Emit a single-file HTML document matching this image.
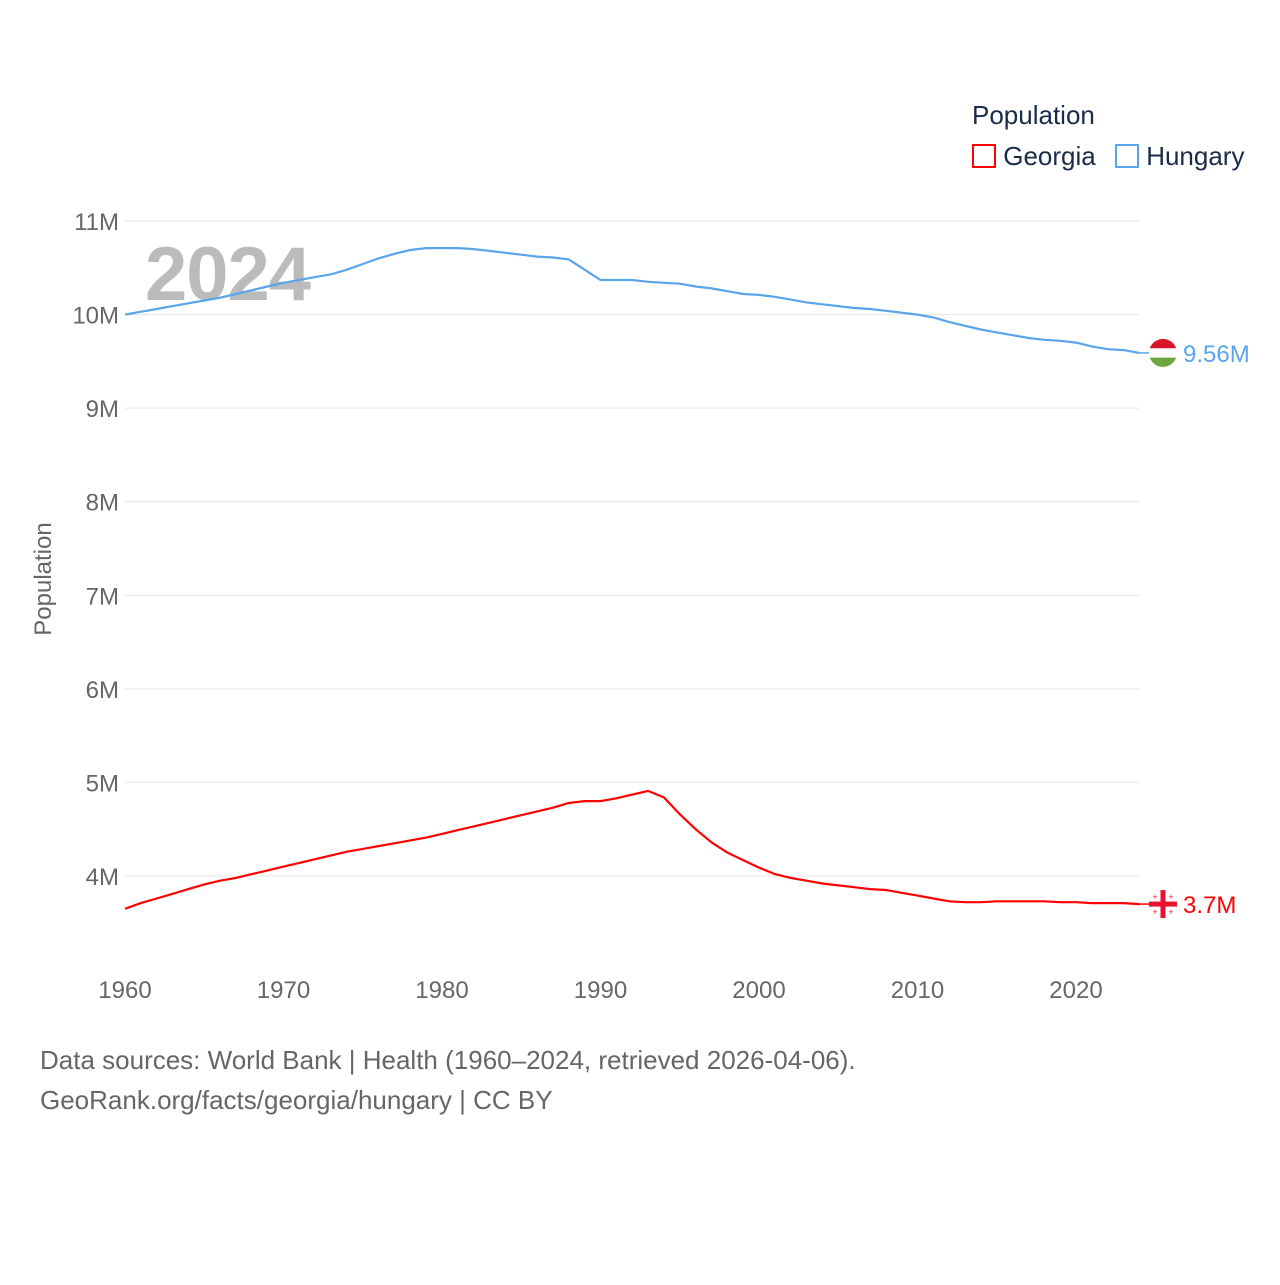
<!DOCTYPE html>
<html><head><meta charset="utf-8"><style>
body{margin:0;background:#fff;width:1280px;height:1280px;overflow:hidden;font-family:"Liberation Sans",sans-serif}
svg text{font-family:"Liberation Sans",sans-serif}
</style></head><body>
<svg id="c" width="1280" height="1280"></svg>
<script>
const years=[];for(let y=1960;y<=2024;y++)years.push(y);
const hungary=[10.00,10.03,10.06,10.09,10.12,10.15,10.18,10.22,10.26,10.30,10.34,10.37,10.40,10.43,10.48,10.54,10.60,10.65,10.69,10.71,10.71,10.71,10.70,10.68,10.66,10.64,10.62,10.61,10.59,10.48,10.37,10.37,10.37,10.35,10.34,10.33,10.30,10.28,10.25,10.22,10.21,10.19,10.16,10.13,10.11,10.09,10.07,10.06,10.04,10.02,10.00,9.97,9.92,9.88,9.84,9.81,9.78,9.75,9.73,9.72,9.70,9.66,9.63,9.62,9.59];
const georgia=[3.65,3.71,3.76,3.81,3.86,3.91,3.95,3.98,4.02,4.06,4.10,4.14,4.18,4.22,4.26,4.29,4.32,4.35,4.38,4.41,4.45,4.49,4.53,4.57,4.61,4.65,4.69,4.73,4.78,4.80,4.80,4.83,4.87,4.91,4.84,4.66,4.50,4.36,4.25,4.17,4.09,4.02,3.98,3.95,3.92,3.90,3.88,3.86,3.85,3.82,3.79,3.76,3.73,3.72,3.72,3.73,3.73,3.73,3.73,3.72,3.72,3.71,3.71,3.71,3.70];
const yTicks=[4,5,6,7,8,9,10,11];
const xTicks=[1960,1970,1980,1990,2000,2010,2020];
const NS="http://www.w3.org/2000/svg";
const svg=document.getElementById('c');
const X=y=>125+(y-1960)*(1076-125)/60;
const Y=v=>876-(v-4)*(876-221)/7;
function el(t,a,txt){const e=document.createElementNS(NS,t);for(const k in a)e.setAttribute(k,a[k]);if(txt!=null)e.textContent=txt;svg.appendChild(e);return e;}
yTicks.forEach(v=>{
 const g=el('line',{x1:125,x2:1139,y1:Y(v),y2:Y(v),stroke:'#e6e6e6','stroke-width':1});
 
 
 const t=el('text',{x:119,y:Y(v)+9,'text-anchor':'end','font-size':24,fill:'#666'},v+'M');
 
 
});
xTicks.forEach(v=>{
 const t=el('text',{x:X(v),y:998,'text-anchor':'middle','font-size':24,fill:'#666'},v);
 
 
});
const yr=el('text',{x:145,y:300,'font-size':76,'font-weight':'bold',fill:'#bbb','letter-spacing':'-1'},'2024');


const at=el('text',{x:0,y:0,'font-size':24,fill:'#666','text-anchor':'middle',transform:'translate(51,579) rotate(-90)'},'Population');


function line(data,color,name){
 const d=data.map((v,i)=>(i?'L':'M')+X(years[i]).toFixed(1)+','+Y(v).toFixed(1)).join('');
 const p=el('path',{d:d,fill:'none',stroke:color,'stroke-width':2.2});
 
 
}
line(hungary,'#5aa5ea','hungary-line');
line(georgia,'#ff0000','georgia-line');
const hy=Y(hungary[hungary.length-1]),gy=Y(georgia[georgia.length-1]);
el('line',{x1:1139,x2:1150,y1:hy,y2:hy,stroke:'#5aa5ea','stroke-width':1.5});
el('line',{x1:1139,x2:1150,y1:gy,y2:gy,stroke:'#ff0000','stroke-width':1.5});
const hf=document.createElementNS(NS,'g');
hf.innerHTML=`<clipPath id="hc"><circle cx="1163" cy="${hy}" r="14"/></clipPath><g clip-path="url(#hc)"><rect x="1149" y="${hy-14}" width="28" height="10" fill="#d8132a"/><rect x="1149" y="${hy-4.7}" width="28" height="9.4" fill="#fff"/><rect x="1149" y="${hy+4.7}" width="28" height="10" fill="#6aa83e"/></g>`;
svg.appendChild(hf);
const gf=document.createElementNS(NS,'g');
gf.innerHTML=`<circle cx="1163" cy="${gy}" r="14" fill="#fff"/><rect x="1160.5" y="${gy-14}" width="5" height="28" fill="#e8112d"/><rect x="1149" y="${gy-2.5}" width="28" height="5" fill="#e8112d"/><text x="1155" y="${gy-4}" font-size="9" fill="#e8112d" text-anchor="middle">+</text><text x="1171" y="${gy-4}" font-size="9" fill="#e8112d" text-anchor="middle">+</text><text x="1155" y="${gy+11}" font-size="9" fill="#e8112d" text-anchor="middle">+</text><text x="1171" y="${gy+11}" font-size="9" fill="#e8112d" text-anchor="middle">+</text>`;
svg.appendChild(gf);
const hl=el('text',{x:1183,y:hy+9,'font-size':24,fill:'#5aa5ea'},'9.56M');


const gl=el('text',{x:1183,y:gy+9,'font-size':24,fill:'#ff0000'},'3.7M');


</script>
<div style="position:absolute;left:972px;top:100px;color:#1a2b4a;font-size:26px">
 <div>Population</div>
 <div style="margin-top:10px;white-space:nowrap">
  <span><span style="display:inline-block;width:24px;height:24px;border:2px solid #ff0000;box-sizing:border-box;vertical-align:-3px"></span> Georgia</span>
  <span style="margin-left:12px"><span style="display:inline-block;width:24px;height:24px;border:2px solid #5aa5ea;box-sizing:border-box;vertical-align:-3px"></span> Hungary</span>
 </div>
</div>
<div style="position:absolute;left:40px;top:1040px;color:#666;font-size:26px;line-height:40px">
 Data sources: World Bank | Health (1960–2024, retrieved 2026-04-06).<br>GeoRank.org/facts/georgia/hungary | CC BY
</div>
</body></html>
